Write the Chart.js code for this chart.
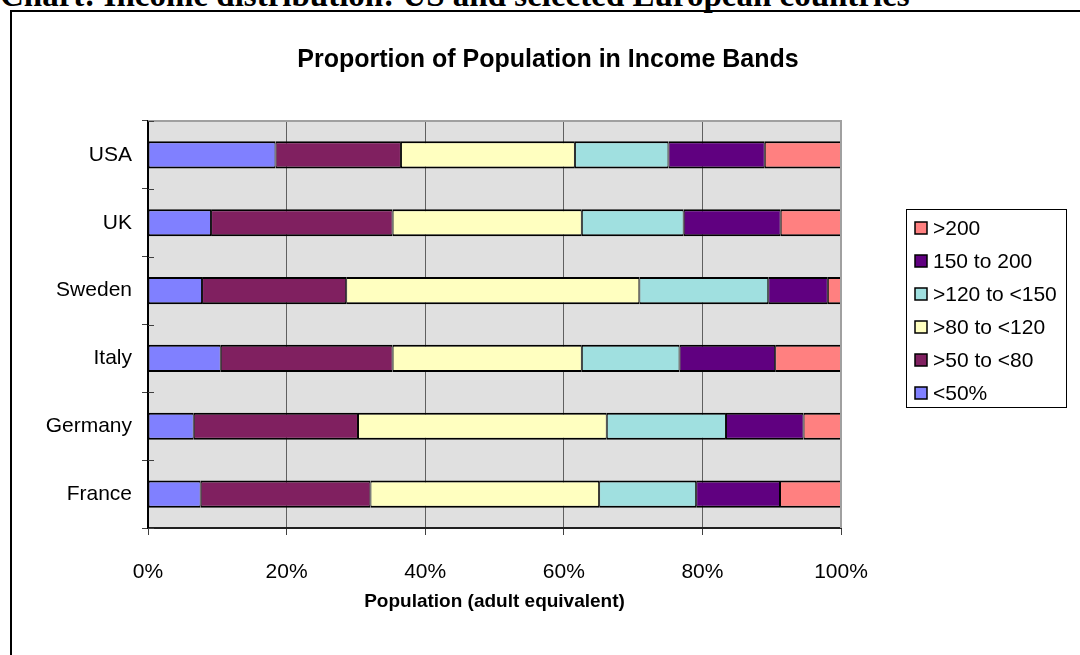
<!DOCTYPE html>
<html>
<head>
<meta charset="utf-8">
<title>Income distribution</title>
<script src="https://cdn.jsdelivr.net/npm/chart.js@4.4.1/dist/chart.umd.min.js"></script>
<style>
  html, body { margin: 0; padding: 0; background: #fff; }
  body { width: 1080px; height: 655px; position: relative; overflow: hidden; }
  #heading {
    position: absolute; left: 0; top: -21px;
    font: bold 33px "Liberation Serif", "Times New Roman", serif;
    line-height: 32px; white-space: nowrap; color: #000;
  }
  #frame { position: absolute; left: 10px; top: 10px; width: 1100px; height: 700px; border: 2px solid #000; }
  #wrap { position: absolute; left: 0; top: 0; width: 1080px; height: 655px; }
</style>
</head>
<body>
<div id="heading">Chart: Income distribution: US and selected European countries</div>
<div id="frame"></div>
<div id="wrap"><canvas id="incomeChart" width="1080" height="655"></canvas></div>
<script>
const chartTitle = 'Proportion of Population in Income Bands';
const axisTitle = 'Population (adult equivalent)';
const countries = ['USA', 'UK', 'Sweden', 'Italy', 'Germany', 'France'];
const bandLabels = ['<50%', '>50 to <80', '>80 to <120', '>120 to <150', '150 to 200', '>200'];
const bandColors = ['#8080FF', '#802060', '#FFFFC0', '#A0E0E0', '#600080', '#FF8080'];
const xTickLabels = ['0%', '20%', '40%', '60%', '80%', '100%'];

// share of population (%) in each band, per country
const under50 = [18.4, 9.1, 7.8, 10.5, 6.6, 7.6];
const from50to80 = [18.1, 26.2, 20.8, 24.8, 23.7, 24.5];
const from80to120 = [25.1, 27.3, 42.3, 27.3, 35.9, 33.0];
const from120to150 = [13.5, 14.7, 18.6, 14.1, 17.2, 14.0];
const from150to200 = [13.9, 14.0, 8.6, 13.8, 11.2, 12.1];
const over200 = [11.0, 8.7, 1.9, 9.5, 5.4, 8.8];

const bandValues = [under50, from50to80, from80to120, from120to150, from150to200, over200];
const FONT = '"Liberation Sans", Arial, sans-serif';

const excelLook = {
    id: 'excelLook',
    beforeDraw(chart) {
        const ctx = chart.ctx;
        const a = chart.chartArea;
        ctx.save();
        ctx.fillStyle = '#E0E0E0';
        ctx.fillRect(a.left, a.top, a.right - a.left, a.bottom - a.top);
        ctx.restore();
    },
    afterDraw(chart) {
        const ctx = chart.ctx;
        const a = chart.chartArea;
        const yScale = chart.scales.y;
        ctx.save();

        // plot frame, top and right
        ctx.strokeStyle = '#A0A0A0';
        ctx.lineWidth = 2;
        ctx.beginPath();
        ctx.moveTo(a.left, a.top);
        ctx.lineTo(a.right, a.top);
        ctx.lineTo(a.right, a.bottom);
        ctx.stroke();

        // inner half of the category ticks
        ctx.strokeStyle = '#404040';
        ctx.lineWidth = 1;
        for (let i = 0; i <= countries.length; i++) {
            const y = Math.round(yScale.getPixelForValue(i - 0.5)) + 0.5;
            ctx.beginPath();
            ctx.moveTo(a.left, y);
            ctx.lineTo(a.left + 6, y);
            ctx.stroke();
        }

        // title
        ctx.fillStyle = '#000';
        ctx.font = 'bold 25px ' + FONT;
        ctx.textAlign = 'center';
        ctx.textBaseline = 'middle';
        ctx.fillText(chartTitle, 548, 60);

        // legend, highest band on top
        ctx.strokeStyle = '#000';
        ctx.lineWidth = 1;
        ctx.strokeRect(906.5, 209.5, 160, 198);
        ctx.font = '21px ' + FONT;
        ctx.textAlign = 'left';
        const ds = chart.data.datasets;
        for (let k = 0; k < ds.length; k++) {
            const d = ds[ds.length - 1 - k];
            const cy = 228 + k * 33;
            ctx.fillStyle = d.backgroundColor;
            ctx.fillRect(915, cy - 6, 12, 12);
            ctx.lineWidth = 1.5;
            ctx.strokeRect(915, cy - 6, 12, 12);
            ctx.fillStyle = '#000';
            ctx.fillText(d.label, 933, cy + 1);
        }
        ctx.restore();
    }
};

const ctx = document.getElementById('incomeChart').getContext('2d');
new Chart(ctx, {
    type: 'bar',
    data: {
        labels: countries,
        datasets: bandLabels.map((label, i) => ({
            label: label,
            data: bandValues[i],
            backgroundColor: bandColors[i],
            borderColor: '#000',
            borderWidth: {top: 2, bottom: 2, left: 1, right: 1},
            borderSkipped: false,
            barPercentage: 0.4,
            categoryPercentage: 1.0
        }))
    },
    options: {
        indexAxis: 'y',
        responsive: false,
        animation: false,
        layout: {padding: {left: 16, right: 239, top: 121, bottom: 39}},
        plugins: {
            legend: {display: false},
            title: {display: false},
            tooltip: {enabled: false}
        },
        scales: {
            x: {
                stacked: true,
                min: 0,
                max: 100,
                afterFit: s => { s.height = 88; },
                ticks: {
                    stepSize: 20,
                    padding: 25,
                    color: '#000',
                    font: {family: FONT, size: 21},
                    callback: (v, i) => xTickLabels[i]
                },
                grid: {color: '#606060', lineWidth: 1, tickLength: 7, tickColor: '#404040'},
                border: {display: true, color: '#202020', width: 2},
                title: {
                    display: true,
                    text: axisTitle,
                    color: '#000',
                    font: {family: FONT, size: 19, weight: 'bold'},
                    padding: {top: 0, bottom: 3}
                }
            },
            y: {
                stacked: true,
                afterFit: s => { s.width = 132; },
                ticks: {
                    padding: 10,
                    color: '#000',
                    font: {family: FONT, size: 21}
                },
                grid: {drawOnChartArea: false, tickLength: 6, color: '#404040'},
                border: {display: true, color: '#000', width: 2}
            }
        }
    },
    plugins: [excelLook]
});
</script>
</body>
</html>
